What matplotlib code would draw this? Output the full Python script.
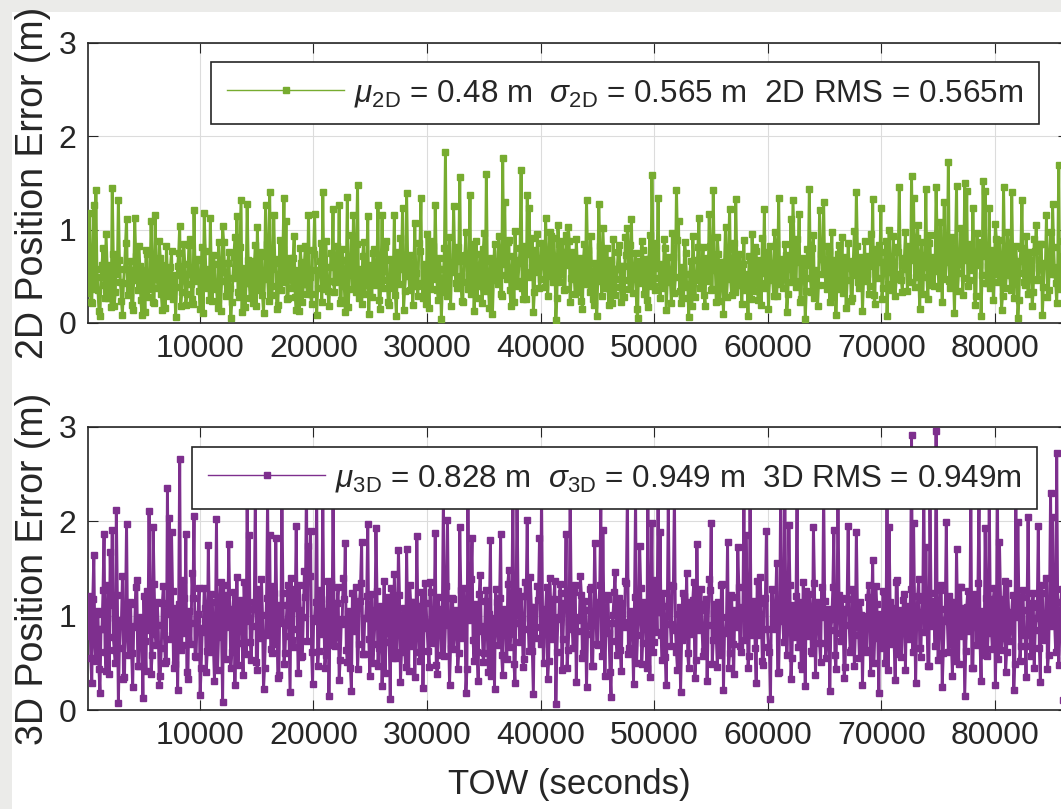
import matplotlib
matplotlib.use("Agg")
import matplotlib.pyplot as plt
import numpy as np
from matplotlib.patches import Rectangle

plt.rcParams['font.family'] = ['Liberation Sans', 'DejaVu Sans']
plt.rcParams['mathtext.fontset'] = 'custom'
plt.rcParams['mathtext.rm'] = 'Liberation Sans'
plt.rcParams['mathtext.it'] = 'Liberation Sans:italic'

# ---- data ----
TOW_START = 120      # seconds
TOW_STEP = 90        # seconds between plotted epochs (even epochs = *_a, odd epochs = *_b)

# 2D error, even epochs (carries the visible spikes)
err_2d_a = [
    0.32,1.18,0.21,1.26,1.43,0.35,0.08,0.62,0.41,0.95,0.27,0.55,1.45,0.18,0.71,1.32,0.44,0.09,0.58,1.11,
    0.38,0.66,0.14,1.12,0.49,0.83,0.25,0.57,0.12,0.74,0.36,1.09,0.22,1.16,0.47,0.88,0.31,0.62,0.16,0.53,
    0.29,0.77,0.42,0.06,0.61,1.04,0.33,0.85,0.19,0.52,0.90,0.26,1.21,0.45,0.68,0.15,0.81,1.18,0.37,0.58,
    1.12,0.24,0.63,0.41,0.87,0.13,1.04,0.55,0.32,0.76,0.05,0.48,0.92,1.15,0.28,1.32,0.59,0.17,1.28,0.43,
    0.66,0.21,0.84,1.03,0.35,0.72,0.11,1.26,0.50,1.40,0.30,1.16,0.64,0.19,0.89,0.46,1.34,1.09,0.27,0.70,
    0.38,0.93,0.14,0.57,0.80,0.23,0.65,0.42,1.16,0.31,0.78,1.17,0.09,0.53,0.86,1.40,0.36,0.60,0.18,0.75,
    1.22,0.44,0.82,1.26,0.25,0.67,0.12,1.35,0.51,0.94,1.16,0.33,1.48,0.58,0.20,0.87,0.41,1.15,0.62,0.28,
    0.79,0.47,1.26,0.15,1.16,0.56,0.88,0.22,0.69,0.37,1.16,0.08,0.61,0.91,1.23,0.34,1.39,0.52,0.73,0.19,
    1.07,0.40,0.86,1.34,0.27,0.63,0.95,0.16,0.54,0.83,1.26,0.35,0.70,0.04,0.48,1.83,0.29,0.92,0.57,1.25,
    0.43,0.81,1.56,0.24,0.68,0.97,0.36,1.37,0.59,0.13,0.88,0.45,0.74,0.21,0.96,1.60,0.39,0.66,0.10,0.85,
    0.52,0.93,0.31,1.77,1.30,0.47,0.89,0.18,0.72,0.99,0.40,0.64,1.64,0.26,0.83,1.37,1.23,0.55,0.12,0.78,
    0.95,0.38,0.86,0.61,1.13,0.29,0.97,0.50,0.91,0.03,1.05,0.44,0.88,0.35,0.94,1.03,0.22,0.76,0.47,0.90,
    0.33,0.70,0.15,0.85,1.32,0.42,0.93,0.26,0.64,0.08,1.28,0.51,1.02,0.37,0.80,0.19,0.67,0.90,0.30,0.58,
    0.84,0.23,0.61,0.92,1.02,0.36,1.11,0.49,0.75,0.05,0.55,0.88,0.31,0.69,0.17,0.94,1.59,0.40,0.82,1.34,
    0.27,0.63,0.90,0.14,0.71,0.46,0.96,0.32,1.43,1.09,0.21,0.58,0.87,0.39,0.06,0.66,0.93,0.28,0.52,1.13,
    0.44,0.81,0.18,0.70,1.17,0.35,1.42,0.57,0.92,0.24,0.65,0.10,1.03,0.48,1.22,0.30,0.86,1.33,0.41,0.74,
    0.20,0.89,0.53,0.07,0.68,0.95,0.34,0.77,0.25,0.60,0.91,1.22,0.43,0.15,0.83,0.50,0.97,0.29,1.34,0.62,
    0.38,0.85,0.12,0.72,1.11,1.32,0.45,0.90,1.17,0.26,0.64,0.04,0.79,1.44,0.33,0.94,0.56,0.18,1.21,0.69,
    1.30,0.41,0.83,0.22,0.97,0.58,0.09,0.74,0.36,0.92,0.49,0.16,0.86,0.63,0.27,0.99,1.40,0.44,0.71,0.13,
    0.88,0.52,0.31,0.95,1.33,0.20,0.67,0.84,1.23,0.38,0.76,0.07,1.00,0.55,0.93,0.29,0.81,1.46,0.46,0.62,
    0.97,0.34,0.78,1.58,1.34,0.49,1.05,0.15,0.87,0.60,1.44,0.26,0.94,0.71,0.40,1.46,0.58,1.08,0.22,1.30,
    0.65,1.73,0.37,0.92,0.11,1.47,0.54,1.02,0.30,1.50,1.41,0.46,0.85,1.23,0.19,0.96,0.62,0.08,1.52,1.41,
    0.43,1.23,0.70,0.25,1.06,0.57,0.89,0.14,1.46,0.38,0.98,0.51,1.40,0.27,0.82,0.05,0.66,1.32,0.44,0.93,
    0.31,0.76,0.18,0.90,1.05,0.47,0.85,0.09,0.62,1.16,0.35,0.97,1.27,0.53,0.21,1.69,0.42,0.88,0.30,0.64,
]
# 2D error, odd epochs (the dense bulk of the band)
err_2d_b = [
    0.45,0.22,0.71,0.36,0.58,0.13,0.49,0.80,0.27,0.62,0.40,0.17,0.74,0.33,0.52,0.68,0.24,0.43,0.86,0.30,
    0.57,0.19,0.46,0.72,0.35,0.61,0.09,0.50,0.78,0.28,0.44,0.66,0.21,0.55,0.37,0.70,0.14,0.48,0.82,0.32,
    0.60,0.26,0.51,0.39,0.75,0.18,0.47,0.63,0.31,0.84,0.42,0.20,0.58,0.69,0.34,0.53,0.11,0.77,0.41,0.25,
    0.48,0.73,0.36,0.16,0.59,0.45,0.87,0.29,0.64,0.38,0.22,0.71,0.50,0.33,0.81,0.12,0.56,0.43,0.67,0.27,
    0.39,0.62,0.18,0.53,0.76,0.30,0.47,0.85,0.24,0.58,0.40,0.69,0.15,0.52,0.35,0.79,0.44,0.26,0.61,0.48,
    0.70,0.28,0.55,0.13,0.64,0.42,0.83,0.31,0.49,0.20,0.74,0.57,0.37,0.66,0.23,0.51,0.88,0.34,0.45,0.60,
    0.33,0.68,0.47,0.21,0.79,0.40,0.56,0.17,0.63,0.36,0.52,0.85,0.27,0.44,0.72,0.31,0.59,0.10,0.48,0.75,
    0.41,0.60,0.25,0.54,0.37,0.81,0.46,0.19,0.67,0.53,0.30,0.76,0.42,0.58,0.14,0.50,0.71,0.35,0.62,0.45,
    0.54,0.29,0.77,0.43,0.61,0.20,0.52,0.88,0.36,0.47,0.69,0.25,0.58,0.41,0.80,0.33,0.64,0.18,0.55,0.72,
    0.37,0.66,0.50,0.23,0.73,0.44,0.59,0.31,0.85,0.48,0.27,0.62,0.40,0.79,0.34,0.56,0.16,0.70,0.46,0.61,
    0.42,0.75,0.29,0.63,0.51,0.87,0.35,0.57,0.22,0.68,0.45,0.80,0.38,0.60,0.26,0.74,0.49,0.91,0.33,0.55,
    0.66,0.47,0.82,0.39,0.73,0.58,0.93,0.44,0.69,0.27,0.85,0.52,0.76,0.36,0.62,0.88,0.48,0.71,0.31,0.64,
    0.50,0.24,0.67,0.42,0.78,0.33,0.55,0.19,0.61,0.45,0.83,0.29,0.70,0.52,0.37,0.64,0.21,0.58,0.47,0.76,
    0.39,0.61,0.28,0.73,0.46,0.84,0.32,0.57,0.15,0.66,0.43,0.78,0.51,0.25,0.69,0.40,0.86,0.35,0.59,0.48,
    0.62,0.37,0.80,0.44,0.55,0.21,0.71,0.49,0.89,0.34,0.60,0.27,0.75,0.42,0.53,0.18,0.67,0.46,0.81,0.38,
    0.57,0.30,0.68,0.45,0.83,0.36,0.61,0.23,0.74,0.50,0.40,0.65,0.28,0.79,0.47,0.58,0.33,0.70,0.52,0.41,
    0.63,0.35,0.49,0.72,0.26,0.56,0.81,0.43,0.67,0.19,0.54,0.38,0.76,0.46,0.60,0.29,0.85,0.51,0.42,0.69,
    0.47,0.73,0.31,0.58,0.44,0.87,0.39,0.65,0.22,0.70,0.53,0.34,0.62,0.48,0.80,0.27,0.57,0.41,0.74,0.52,
    0.60,0.36,0.77,0.50,0.28,0.68,0.43,0.84,0.55,0.32,0.71,0.46,0.59,0.24,0.66,0.51,0.82,0.37,0.63,0.45,
    0.54,0.72,0.40,0.61,0.30,0.79,0.48,0.65,0.26,0.57,0.88,0.42,0.69,0.35,0.62,0.47,0.76,0.53,0.33,0.70,
    0.58,0.83,0.44,0.67,0.39,0.91,0.52,0.73,0.31,0.64,0.49,0.86,0.41,0.70,0.56,0.95,0.37,0.62,0.80,0.47,
    0.71,0.45,0.89,0.53,0.76,0.34,0.63,0.97,0.48,0.68,0.40,0.82,0.57,0.74,0.29,0.66,0.87,0.51,0.72,0.43,
    0.61,0.38,0.78,0.52,0.90,0.44,0.67,0.29,0.73,0.56,0.84,0.35,0.69,0.47,0.62,0.25,0.80,0.54,0.41,0.75,
    0.50,0.68,0.33,0.77,0.46,0.59,0.85,0.39,0.64,0.28,0.73,0.52,0.81,0.43,0.60,0.36,0.70,0.49,0.58,0.44,
]

# 3D error, even epochs (carries the visible spikes)
err_3d_a = [
    0.78,1.21,0.29,1.64,0.52,1.05,0.18,0.86,1.87,0.41,1.33,1.67,1.91,0.64,2.12,0.07,0.95,1.42,0.35,1.97,
    0.58,1.12,0.24,0.89,1.38,0.47,0.99,0.13,0.73,1.26,2.11,0.38,1.94,0.81,1.15,0.27,0.66,1.31,0.50,2.35,
    2.04,1.89,0.44,1.08,0.21,2.66,0.69,1.19,1.87,0.33,0.92,1.45,2.06,0.56,1.02,0.16,0.83,1.29,0.40,1.75,
    0.62,1.14,0.31,2.02,0.77,1.36,0.09,0.88,1.22,1.76,0.45,1.03,0.26,1.41,0.71,1.17,0.37,0.94,2.30,1.85,
    0.53,1.07,2.30,0.42,0.96,1.39,0.22,0.80,2.25,1.85,0.60,1.24,1.82,0.34,1.11,2.30,0.49,0.90,1.33,0.19,
    0.74,1.28,1.95,0.39,1.06,0.57,1.47,2.40,1.74,1.90,0.28,0.97,2.30,0.63,1.18,2.25,0.44,1.02,0.15,1.34,
    2.35,0.68,1.13,0.32,0.91,1.40,1.77,0.51,1.05,0.20,0.85,1.30,0.43,1.16,1.78,0.59,0.98,1.97,0.36,1.23,
    0.70,1.93,0.47,1.09,0.25,1.37,0.82,1.20,0.12,0.93,1.44,0.55,1.70,0.30,1.01,0.66,1.71,0.41,1.14,0.79,
    0.35,1.84,0.61,1.10,0.23,1.35,0.87,0.46,1.25,0.72,1.88,0.38,1.03,0.58,2.30,0.90,2.01,0.27,1.19,0.65,
    1.06,0.43,1.94,0.76,1.29,0.18,2.25,0.95,1.82,0.52,1.12,0.31,1.43,0.84,0.60,1.27,0.40,1.80,0.97,0.22,
    1.15,0.69,1.87,0.37,1.04,0.54,1.48,0.81,2.40,0.29,2.30,0.92,1.21,0.46,1.36,2.01,0.63,1.09,0.17,0.88,
    1.31,1.82,2.30,0.50,1.07,0.33,1.40,0.75,1.18,0.06,0.96,1.34,0.42,1.13,1.87,0.64,2.30,0.86,1.25,0.30,
    0.99,1.42,0.55,1.16,0.24,0.89,1.30,0.47,1.77,0.70,1.08,2.20,1.91,0.36,1.22,0.82,0.14,1.01,1.46,0.58,
    1.19,0.41,0.93,1.37,2.30,0.66,1.05,0.28,2.25,0.80,1.74,0.49,1.14,0.87,2.40,0.35,1.98,0.72,1.26,2.30,
    1.89,0.53,1.10,0.26,2.20,0.91,1.33,2.30,0.62,1.02,0.19,1.24,0.78,1.45,0.44,0.97,1.17,0.34,1.76,0.85,
    1.28,0.57,1.06,0.31,1.39,1.98,0.74,1.12,0.46,0.94,1.32,0.21,0.83,1.78,0.60,1.20,0.38,1.03,1.73,0.68,
    1.09,2.30,1.86,0.45,2.25,0.79,1.16,0.29,0.98,1.41,0.52,1.13,1.90,0.67,0.12,1.27,0.86,1.56,0.40,2.40,
    0.94,2.30,0.58,1.96,0.33,1.11,0.77,2.30,1.02,0.48,1.36,0.25,0.90,1.23,0.63,1.94,0.37,1.15,0.71,1.30,
    2.35,0.55,1.07,0.20,0.96,1.91,0.43,2.25,0.82,1.19,0.34,1.04,1.95,0.61,1.28,0.47,1.89,0.88,1.14,0.27,
    1.00,0.64,1.33,0.39,1.59,0.76,1.12,0.18,0.93,1.26,0.50,2.30,1.94,0.70,1.08,0.32,1.38,0.85,0.56,1.17,
    0.42,1.05,0.81,2.92,1.98,0.29,1.21,0.66,1.02,2.40,1.73,0.47,2.30,0.89,1.16,2.96,0.53,1.27,0.24,0.95,
    1.99,0.61,1.14,0.36,1.03,1.71,0.49,1.30,0.78,0.15,1.09,0.84,2.30,0.44,1.23,0.69,2.25,0.31,1.01,1.93,
    0.57,2.30,0.87,1.18,0.26,2.35,1.78,0.64,1.11,0.40,1.35,0.73,1.04,0.21,2.30,1.99,0.52,1.20,0.83,0.35,
    2.05,0.68,1.13,0.45,0.97,1.95,0.30,1.24,0.79,1.40,0.58,2.30,2.05,0.92,2.72,0.48,1.15,0.11,0.86,1.32,
]
# 3D error, odd epochs (the dense bulk of the band)
err_3d_b = [
    0.92,0.55,1.18,0.71,1.02,0.43,0.86,1.27,0.62,0.98,0.38,1.11,0.77,0.50,1.22,0.66,0.94,0.33,1.06,0.81,
    1.15,0.60,0.88,1.30,0.47,0.97,0.73,1.21,0.41,0.85,1.09,0.58,1.34,0.69,0.90,0.36,1.13,0.79,0.52,1.02,
    0.75,1.26,0.49,0.93,1.12,0.64,1.38,0.82,0.40,1.05,0.70,1.19,0.57,0.96,1.29,0.45,0.87,1.08,0.63,0.99,
    1.23,0.68,0.95,0.42,1.16,0.80,1.32,0.54,0.91,1.07,0.61,1.25,0.74,0.48,1.10,0.85,1.36,0.59,0.97,0.72,
    0.89,1.14,0.51,1.28,0.76,1.01,0.44,1.19,0.83,0.65,1.31,0.70,1.04,0.37,0.92,1.24,0.60,1.11,0.78,1.40,
    0.67,1.08,0.86,1.33,0.56,0.99,1.20,0.73,1.42,0.62,0.94,1.15,0.47,1.27,0.81,1.05,0.58,1.37,0.88,0.69,
    1.12,0.77,1.30,0.53,0.96,1.18,0.64,1.03,0.45,1.24,0.84,1.09,0.70,1.35,0.59,0.98,1.21,0.75,1.06,0.50,
    0.93,1.26,0.66,1.10,0.82,0.39,1.17,0.72,1.29,0.55,1.00,0.87,1.22,0.61,1.08,0.46,0.95,1.33,0.68,1.14,
    0.78,1.04,0.52,1.25,0.89,1.13,0.63,1.36,0.71,0.97,0.48,1.20,0.84,1.07,0.57,1.31,0.92,0.66,1.18,0.80,
    1.01,0.60,1.27,0.85,1.11,0.43,0.96,1.39,0.74,1.05,0.62,1.23,0.89,0.51,1.16,0.78,1.02,0.36,0.94,1.28,
    0.83,1.19,0.58,1.07,0.91,1.34,0.67,1.12,0.49,1.01,1.26,0.72,0.98,0.54,1.21,0.86,1.41,0.63,1.09,0.76,
    1.17,0.70,1.03,0.88,1.30,0.52,1.14,0.79,1.37,0.61,0.99,1.24,0.75,1.08,0.45,0.93,1.19,0.66,1.32,0.84,
    0.95,1.22,0.60,1.06,0.81,1.28,0.47,0.97,1.15,0.69,1.33,0.57,1.01,0.86,1.18,0.40,0.92,1.25,0.73,1.10,
    0.64,1.13,0.88,1.35,0.59,1.02,0.77,1.20,0.50,0.96,1.29,0.71,1.07,0.44,0.90,1.16,0.62,1.38,0.83,1.04,
    0.79,1.24,0.56,1.00,1.17,0.68,1.31,0.85,0.42,1.09,0.74,1.21,0.93,0.60,1.14,0.81,1.36,0.53,0.98,1.12,
    0.87,0.63,1.18,0.90,1.27,0.49,1.03,0.76,1.15,0.58,1.34,0.82,0.99,0.45,1.22,0.70,1.06,0.88,1.30,0.61,
    1.05,0.74,1.25,0.57,0.94,1.13,0.66,1.37,0.80,1.02,0.48,1.19,0.86,0.62,1.28,0.91,1.10,0.39,0.97,1.23,
    0.72,1.08,0.89,1.32,0.55,1.00,1.21,0.67,1.14,0.43,0.95,1.26,0.78,1.04,0.60,1.35,0.84,1.11,0.51,0.99,
    1.16,0.69,1.03,0.85,1.30,0.58,0.96,1.22,0.73,1.07,0.46,1.18,0.90,0.64,1.27,0.80,1.13,0.55,1.01,0.88,
    0.61,1.20,0.93,1.09,0.50,1.31,0.77,1.02,0.66,1.25,0.84,0.42,1.15,0.98,0.71,1.36,0.59,1.06,0.87,1.23,
    1.10,0.75,1.28,0.62,1.04,0.91,1.39,0.56,1.17,0.83,1.01,0.47,1.24,0.95,0.68,1.12,0.86,1.33,0.60,1.07,
    0.94,1.21,0.70,1.14,0.52,1.00,1.30,0.79,1.08,0.63,1.26,0.88,0.44,1.16,0.97,1.35,0.72,1.05,0.58,1.19,
    0.82,1.11,0.65,1.29,0.90,0.54,1.18,0.76,1.37,0.61,1.03,0.86,1.22,0.49,0.99,1.13,0.68,1.27,0.80,1.06,
    1.01,0.57,1.24,0.85,1.09,0.66,1.32,0.74,0.96,0.43,1.15,0.89,1.20,0.62,1.04,0.78,1.28,0.53,0.93,1.12,
]

x_ticks = [10000, 20000, 30000, 40000, 50000, 60000, 70000, 80000]
y_ticks = [0, 1, 2, 3]
label_2d = r'$\mu_{\rm 2D}$ = 0.48 m  $\sigma_{\rm 2D}$ = 0.565 m  2D RMS = 0.565m'
label_3d = r'$\mu_{\rm 3D}$ = 0.828 m  $\sigma_{\rm 3D}$ = 0.949 m  3D RMS = 0.949m'
ylabel_2d = '2D Position Error (m)'
ylabel_3d = '3D Position Error (m)'
xlabel = 'TOW (seconds)'

GREEN = '#77AC30'
PURPLE = '#7E2F8E'
DARK = '#262626'

err_2d = np.column_stack([err_2d_a, err_2d_b]).ravel()
err_3d = np.column_stack([err_3d_a, err_3d_b]).ravel()
tow = TOW_START + TOW_STEP * np.arange(len(err_2d))

W, H = 1061, 809
fig = plt.figure(figsize=(W / 100, H / 100), dpi=100, facecolor='#ebebe9')
bg = Rectangle((12 / W, 0), 1, 1 - 12 / H, transform=fig.transFigure,
               facecolor='white', edgecolor='none', zorder=-10)
fig.add_artist(bg)

def px_axes(left, top, right, bottom):
    return [left / W, 1 - bottom / H, (right - left) / W, (bottom - top) / H]

ax1 = fig.add_axes(px_axes(87.7, 43, 1067.6, 323))
ax2 = fig.add_axes(px_axes(87.7, 427, 1067.6, 710))

def style(ax, data, color, label, ylabel, leg_x, leg_y):
    ax.plot(tow, data, '-s', color=color, lw=2.1, ms=5.0, mec=color, mfc=color,
            label=label, zorder=3)
    ax.set_xlim(TOW_START, 86400)
    ax.set_ylim(0, 3)
    ax.set_xticks(x_ticks)
    ax.set_xticklabels([str(v) for v in x_ticks])
    ax.set_yticks(y_ticks)
    ax.grid(True, color='#dcdcdc', lw=0.8, zorder=0)
    ax.set_axisbelow(True)
    for s in ax.spines.values():
        s.set_color(DARK)
        s.set_linewidth(1.2)
    ax.tick_params(direction='in', length=7, width=0.8, top=True, right=True,
                   labelsize=23, pad=8, colors=DARK)
    ax.set_ylabel(ylabel, fontsize=27, color=DARK)
    ax.yaxis.set_label_coords(-0.037, 0.5)
    leg = ax.legend(loc='upper left', bbox_to_anchor=(leg_x, leg_y), borderaxespad=0,
                    fontsize=22.6, handlelength=3.75, handletextpad=0.3, borderpad=0.5,
                    numpoints=1, fancybox=False, framealpha=1, edgecolor=DARK)
    leg.get_frame().set_linewidth(1.2)
    leg.set_zorder(10)
    for ln in leg.get_lines():
        ln.set_linewidth(1.0)
        ln.set_markersize(4.6)
    for t in leg.get_texts():
        t.set_color(DARK)

style(ax1, err_2d, GREEN, label_2d, ylabel_2d, (211 - 87.7) / 979.9, (323 - 62) / 280)
style(ax2, err_3d, PURPLE, label_3d, ylabel_3d, (192 - 87.7) / 979.9, (710 - 447) / 283)

ax2.set_xlabel(xlabel, fontsize=25, color=DARK)
ax2.xaxis.set_label_coords((569 - 87.7) / 979.9, -0.205)

fig.savefig('out.png', dpi=100, facecolor=fig.get_facecolor())
